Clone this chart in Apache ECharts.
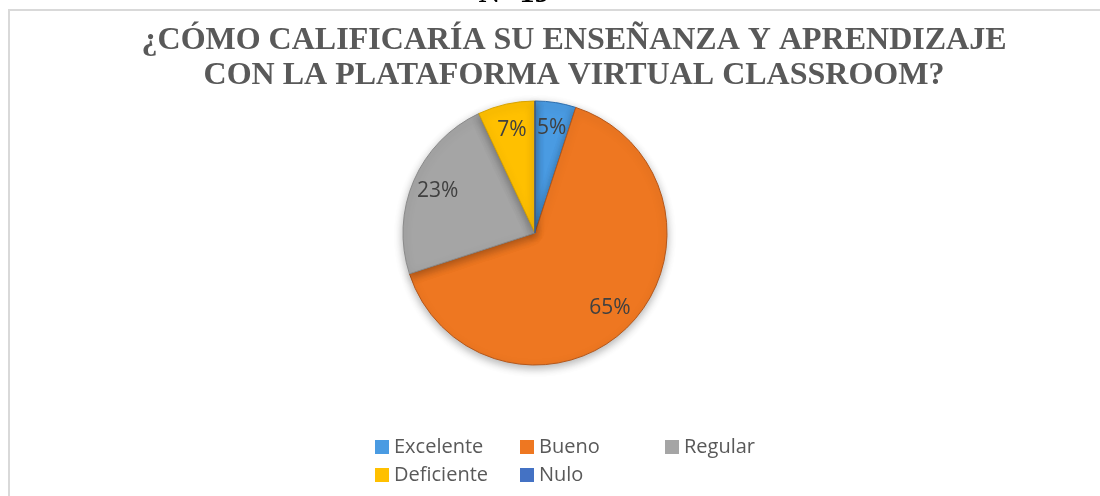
<!doctype html>
<html>
<head>
<meta charset="UTF-8">
<title>Calificación enseñanza y aprendizaje</title>
<script src="https://cdn.jsdelivr.net/npm/echarts@6/dist/echarts.min.js"></script>
<style>
  html, body { margin: 0; padding: 0; background: #fff; }
  #main { width: 1100px; height: 496px; }
</style>
</head>
<body>
<div id="main"></div>
<script>
// datos (porcentaje)
var categorias = ['Excelente', 'Bueno', 'Regular', 'Deficiente', 'Nulo'];
var valores = [5, 65, 23, 7, 0];
var colores = ['#4a9be2', '#ee7721', '#a5a5a5', '#ffc000', '#4472c4'];
var bordes = ['#2e6fae', '#b5571a', '#8a8a8a', '#d9a300', '#2f5597'];

var titulo = '¿CÓMO CALIFICARÍA SU ENSEÑANZA Y APRENDIZAJE\nCON LA PLATAFORMA VIRTUAL CLASSROOM?';

var datos = [];
for (var i = 0; i < categorias.length; i++) {
    datos.push({
        name: categorias[i],
        value: valores[i],
        itemStyle: { color: colores[i], borderColor: bordes[i] }
    });
}

var myChart = echarts.init(document.getElementById('main'));
var option = {
    backgroundColor: '#fff',
    animation: false,
    title: {
        text: titulo,
        left: 574,
        top: 23,
        padding: 0,
        textAlign: 'center',
        textStyle: {
            fontFamily: 'Liberation Serif',
            fontWeight: 'bold',
            fontSize: 32,
            lineHeight: 35,
            color: '#595959'
        }
    },
    graphic: [
        {
            type: 'rect',
            silent: true,
            shape: { x: 9, y: 10, width: 1200, height: 600 },
            style: { fill: 'none', stroke: '#d9d9d9', lineWidth: 2 }
        },
        {
            type: 'text',
            silent: true,
            x: 514,
            y: 9,
            style: {
                text: 'N° 19',
                font: 'bold 30px "Liberation Serif"',
                fill: '#000',
                align: 'center',
                verticalAlign: 'bottom'
            }
        }
    ],
    legend: {
        data: categorias,
        left: 375,
        top: 433,
        width: 440,
        padding: 0,
        itemGap: 0,
        itemWidth: 14,
        itemHeight: 14,
        icon: 'rect',
        selectedMode: false,
        itemStyle: { borderWidth: 0 },
        formatter: '{a|{name}}',
        textStyle: {
            fontFamily: 'Open Sans',
            fontSize: 20,
            lineHeight: 28,
            color: '#595959',
            rich: {
                a: { width: 126, height: 28, fontSize: 20, lineHeight: 28, fontFamily: 'Open Sans', color: '#595959' }
            }
        }
    },
    series: [
        {
            name: 'Calificación',
            type: 'pie',
            center: [535, 233],
            radius: [0, 132],
            startAngle: 90,
            clockwise: true,
            silent: true,
            label: { show: false },
            labelLine: { show: false },
            itemStyle: {
                borderWidth: 1,
                shadowBlur: 8,
                shadowOffsetY: 3,
                shadowColor: 'rgba(0,0,0,0.3)'
            },
            data: datos
        },
        {
            name: 'Etiquetas',
            type: 'pie',
            center: [535, 233],
            radius: [72, 134],
            startAngle: 90,
            clockwise: true,
            silent: true,
            itemStyle: { color: 'rgba(0,0,0,0)' },
            label: {
                show: true,
                position: 'inside',
                fontFamily: 'Open Sans',
                fontSize: 21,
                color: '#404040',
                formatter: function (p) {
                    return p.value ? p.value + '%' : '';
                }
            },
            labelLine: { show: false },
            data: categorias.map(function (c, i) {
                return { name: c, value: valores[i] };
            })
        }
    ]
};
myChart.setOption(option);
</script>
</body>
</html>
